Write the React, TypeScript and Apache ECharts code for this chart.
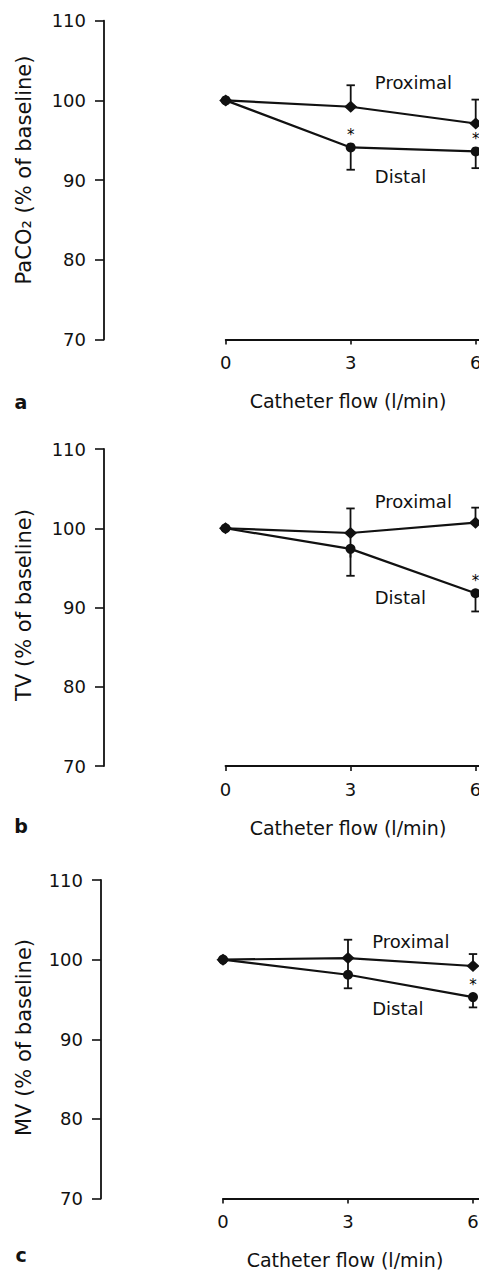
import React, { useEffect, useRef } from "react";
import * as echarts from "echarts";

// ---------- data ----------
const flow = [0, 3, 6];
const xStep = 3;
const xMax = 9; // axis continues beyond the cropped right edge
const yMin = 70;
const yMax = 110;
const yStep = 10;

const panelLetters = ["a", "b", "c"];
const yAxisNames = ["PaCO₂ (% of baseline)", "TV (% of baseline)", "MV (% of baseline)"];
const xAxisName = "Catheter flow (l/min)";
const seriesNames = ["Proximal", "Distal"];

// PaCO2
const paco2Proximal = [100, 99.2, 97.1];
const paco2ProximalErrUp = [0, 2.7, 3.0];
const paco2ProximalErrDown = [0, 0, 0];
const paco2Distal = [100, 94.1, 93.6];
const paco2DistalErrDown = [0, 2.8, 2.1];
const paco2DistalSig = [false, true, true];
const paco2NameLabelY = [102.2, 90.4];

// TV
const tvProximal = [100, 99.4, 100.7];
const tvProximalErrUp = [0, 3.1, 1.9];
const tvProximalErrDown = [0, 3.1, 0];
const tvDistal = [100, 97.4, 91.8];
const tvDistalErrDown = [0, 3.4, 2.3];
const tvDistalSig = [false, false, true];
const tvNameLabelY = [103.35, 91.2];

// MV
const mvProximal = [100, 100.2, 99.2];
const mvProximalErrUp = [0, 2.3, 1.5];
const mvProximalErrDown = [0, 2.3, 0];
const mvDistal = [100, 98.1, 95.3];
const mvDistalErrDown = [0, 1.7, 1.3];
const mvDistalSig = [false, false, true];
const mvNameLabelY = [102.25, 93.9];

const nameLabelX = 3.58;

// ---------- layout ----------
const VIEW_W = 479;
const VIEW_H = 1278;
const CHART_W = 640;
const panelTop = [20.7, 449, 880];
const panelBottom = [339.5, 766, 1198.5];
const yAxisLeft = [104, 104, 101];
const plotLeft = [225.7, 225.5, 223];
const pxPerStep = 125;
const yNameCenterY = [170, 605, 1037.5];
const yNameCenterX = 24;
const xTitleX = [348, 348, 345];
const xTitleY = [401, 828, 1260];
const letterX = 21;
const letterY = [402, 826, 1255];

const FONT = "DejaVu Sans";
const INK = "#111";

const panels = [
  {
    prox: paco2Proximal, proxUp: paco2ProximalErrUp, proxDown: paco2ProximalErrDown,
    dist: paco2Distal, distDown: paco2DistalErrDown, sig: paco2DistalSig, nameY: paco2NameLabelY,
  },
  {
    prox: tvProximal, proxUp: tvProximalErrUp, proxDown: tvProximalErrDown,
    dist: tvDistal, distDown: tvDistalErrDown, sig: tvDistalSig, nameY: tvNameLabelY,
  },
  {
    prox: mvProximal, proxUp: mvProximalErrUp, proxDown: mvProximalErrDown,
    dist: mvDistal, distDown: mvDistalErrDown, sig: mvDistalSig, nameY: mvNameLabelY,
  },
];

function errRender(params: any, api: any) {
  const x = api.value(0);
  const lo = api.value(1);
  const hi = api.value(2);
  const capTop = api.value(3) > 0;
  if (lo === hi) return { type: "group", children: [] };
  const pLo = api.coord([x, lo]);
  const pHi = api.coord([x, hi]);
  const capY = capTop ? pHi[1] : pLo[1];
  const st = { stroke: INK, lineWidth: 1.8 };
  return {
    type: "group",
    children: [
      { type: "line", shape: { x1: pLo[0], y1: pLo[1], x2: pHi[0], y2: pHi[1] }, style: st },
      { type: "line", shape: { x1: pLo[0] - 4.2, y1: capY, x2: pLo[0] + 4.2, y2: capY }, style: st },
    ],
  };
}

function buildOption() {
  const grid: any[] = [];
  const xAxis: any[] = [];
  const yAxis: any[] = [];
  const series: any[] = [];
  const graphic: any[] = [];

  panels.forEach((p, i) => {
    const top = panelTop[i];
    const height = panelBottom[i] - panelTop[i];
    const gA = i * 2;
    const gD = i * 2 + 1;
    grid.push({ left: yAxisLeft[i], top, width: 20, height, containLabel: false });
    grid.push({ left: plotLeft[i], top, width: (pxPerStep * xMax) / xStep, height, containLabel: false });

    xAxis.push({ gridIndex: gA, type: "value", min: 0, max: 1, show: false });
    xAxis.push({
      gridIndex: gD,
      type: "value",
      min: 0,
      max: xMax,
      interval: xStep,
      axisLine: { show: true, onZero: false, lineStyle: { color: INK, width: 1.8 } },
      axisTick: { show: true, length: 5, lineStyle: { color: INK, width: 1.6 } },
      axisLabel: { show: true, margin: 14, fontSize: 18, fontFamily: FONT, color: INK },
      splitLine: { show: false },
    });

    yAxis.push({
      gridIndex: gA,
      type: "value",
      min: yMin,
      max: yMax,
      interval: yStep,
      axisLine: { show: true, onZero: false, lineStyle: { color: INK, width: 1.8 } },
      axisTick: { show: true, length: 9, lineStyle: { color: INK, width: 1.6 } },
      axisLabel: { show: true, margin: 18, fontSize: 18, fontFamily: FONT, color: INK },
      splitLine: { show: false },
    });
    yAxis.push({ gridIndex: gD, type: "value", min: yMin, max: yMax, show: false, splitLine: { show: false } });

    const proxErr = flow.map((x, k) => [x, p.prox[k] - p.proxDown[k], p.prox[k] + p.proxUp[k], 1]);
    const distErr = flow.map((x, k) => [x, p.dist[k] - p.distDown[k], p.dist[k], -1]);

    series.push({
      type: "custom",
      xAxisIndex: gD,
      yAxisIndex: gD,
      renderItem: errRender,
      encode: { x: 0, y: [1, 2] },
      data: [...proxErr, ...distErr],
      z: 1,
      silent: true,
    });

    series.push({
      type: "line",
      name: seriesNames[1],
      xAxisIndex: gD,
      yAxisIndex: gD,
      data: flow.map((x, k) => ({
        value: [x, p.dist[k]],
        label: {
          show: p.sig[k],
          formatter: "*",
          position: "top",
          distance: 0,
          fontSize: 15,
          fontFamily: FONT,
          color: "#000",
        },
      })),
      symbol: "circle",
      symbolSize: 10,
      itemStyle: { color: INK, opacity: 1 },
      lineStyle: { color: INK, width: 2.2 },
      z: 2,
      silent: true,
    });

    series.push({
      type: "line",
      name: seriesNames[0],
      xAxisIndex: gD,
      yAxisIndex: gD,
      data: flow.map((x, k) => [x, p.prox[k]]),
      symbol: "diamond",
      symbolSize: [13, 12],
      itemStyle: { color: INK, opacity: 1 },
      lineStyle: { color: INK, width: 2.2 },
      z: 3,
      silent: true,
    });

    series.push({
      type: "scatter",
      xAxisIndex: gD,
      yAxisIndex: gD,
      symbolSize: 0,
      itemStyle: { opacity: 1, color: INK },
      data: seriesNames.map((n, k) => ({ name: n, value: [nameLabelX, p.nameY[k]] })),
      label: {
        show: true,
        formatter: (d: any) => d.name,
        position: "right",
        distance: 0,
        fontSize: 18,
        fontFamily: FONT,
        color: INK,
        opacity: 1,
      },
      z: 4,
      silent: true,
    });

    graphic.push({
      type: "text",
      x: yNameCenterX,
      y: yNameCenterY[i],
      rotation: Math.PI / 2,
      style: {
        text: yAxisNames[i],
        fontSize: 21,
        fontFamily: FONT,
        fill: INK,
        align: "center",
        verticalAlign: "middle",
      },
    });
    graphic.push({
      type: "text",
      x: xTitleX[i],
      y: xTitleY[i],
      style: {
        text: xAxisName,
        fontSize: 19,
        fontFamily: FONT,
        fill: INK,
        align: "center",
        verticalAlign: "middle",
      },
    });
    graphic.push({
      type: "text",
      x: letterX,
      y: letterY[i],
      style: {
        text: panelLetters[i],
        fontSize: 19,
        fontWeight: "bold",
        fontFamily: FONT,
        fill: INK,
        align: "center",
        verticalAlign: "middle",
      },
    });
  });

  return {
    animation: false,
    backgroundColor: "#ffffff",
    grid,
    xAxis,
    yAxis,
    series,
    graphic,
  };
}

export default function App() {
  const ref = useRef<HTMLDivElement>(null);
  useEffect(() => {
    if (!ref.current) return;
    const chart = echarts.init(ref.current, undefined, { renderer: "svg" });
    chart.setOption(buildOption() as any);
    return () => chart.dispose();
  }, []);
  return (
    <div
      style={{
        position: "fixed",
        left: 0,
        top: 0,
        width: VIEW_W,
        height: VIEW_H,
        overflow: "hidden",
        background: "#fff",
      }}
    >
      <div ref={ref} style={{ width: CHART_W, height: VIEW_H }} />
    </div>
  );
}
